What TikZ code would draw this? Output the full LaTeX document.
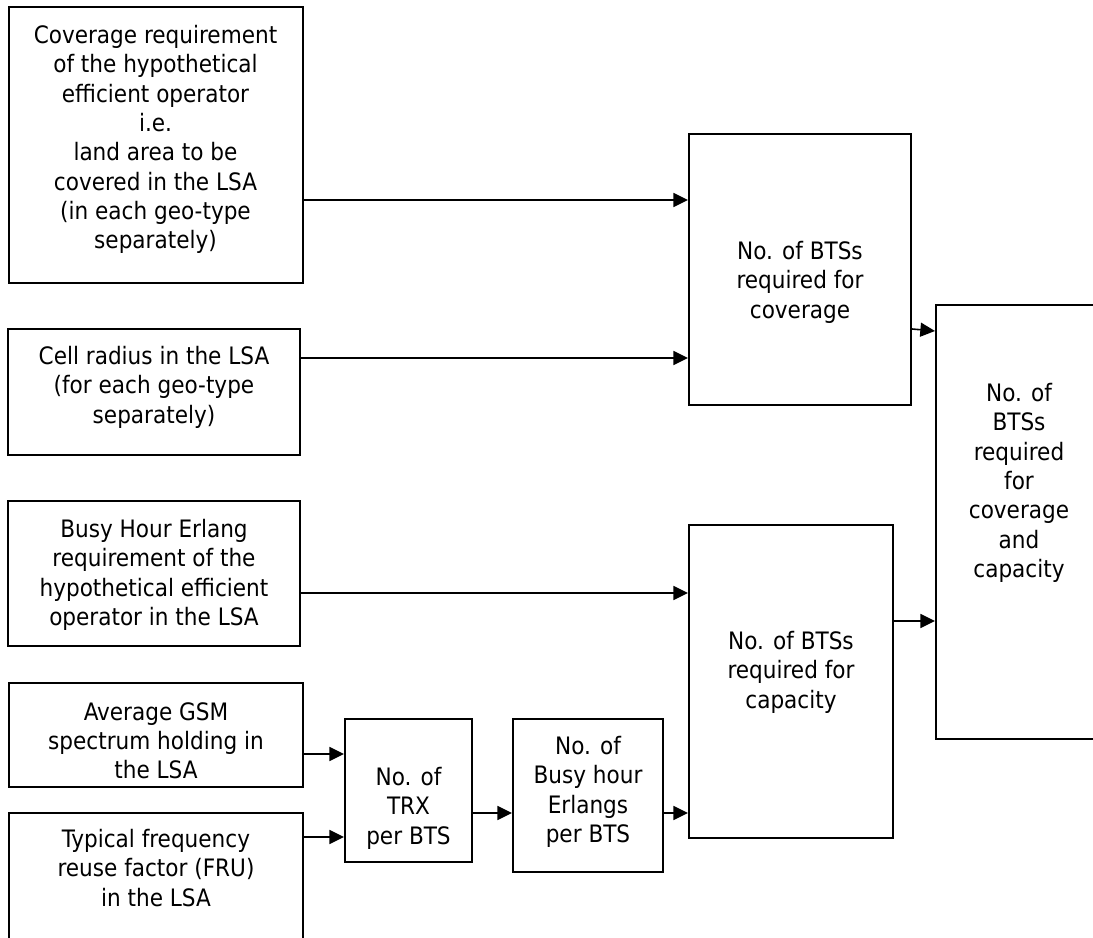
\documentclass[tikz,border=0pt]{standalone}
\usepackage{fontspec}
\IfFontExistsTF{DejaVu Sans Condensed}
  {\setmainfont{DejaVu Sans Condensed}\newcommand\boxfontsize{\fontsize{18pt}{22pt}\selectfont}}
  {\setmainfont{DejaVu Sans}\newcommand\boxfontsize{\fontsize{16.2pt}{22pt}\selectfont}}
\usetikzlibrary{arrows.meta}

\tikzset{
  bx/.style={draw, line width=1.5pt, inner sep=0pt},
  wh/.style 2 args={minimum width=#1*0.75pt, minimum height=#2*0.75pt},
  txt/.style={anchor=north, align=center, inner sep=0pt, font=\boxfontsize},
  arr/.style={line width=1.2pt, -{Triangle[length=11pt,width=10.5pt]}}
}

\begin{document}
\begin{tikzpicture}[x=0.75pt,y=-0.75pt]

\useasboundingbox (0,0) rectangle (1093,938);
\clip (0,0) rectangle (1093,938);

% input boxes (left column)
\node[bx, wh={294}{276}] (A) at (156,145) {};
\node[bx, wh={292}{126}] (B) at (154,392) {};
\node[bx, wh={292}{145}] (E) at (154,573.5) {};
\node[bx, wh={294}{104}] (G) at (156,735) {};
\node[bx, wh={294}{187}] (H) at (156,906.5) {};

% intermediate boxes
\node[bx, wh={127}{143}] (I) at (408.5,790.5) {};
\node[bx, wh={150}{153}] (J) at (588,795.5) {};
\node[bx, wh={222}{271}] (C) at (800,269.5) {};
\node[bx, wh={204}{313}] (F) at (791,681.5) {};

% result box
\node[bx, wh={166}{434}] (D) at (1019,522) {};

% box texts
\node[txt] (At) at (155.5,25) {Coverage requirement\\of the hypothetical\\efficient operator\\i.e.\\land area to be\\covered in the LSA\\(in each geo-type\\separately)};
\node[txt] (Bt) at (154,346) {Cell radius in the LSA\\ (for each geo-type\\separately)};
\node[txt] (Et) at (154,519) {Busy Hour Erlang\\requirement of the\\hypothetical efficient\\operator in the LSA};
\node[txt] (Gt) at (156,702) {Average GSM\\spectrum holding in\\the LSA};
\node[txt] (Ht) at (156,829) {Typical frequency\\reuse factor (FRU)\\in the LSA};
\node[txt] (It) at (408.5,767) {No. of\\TRX\\per BTS};
\node[txt] (Jt) at (588,736) {No. of\\Busy hour\\Erlangs\\per BTS};
\node[txt] (Ct) at (800,241) {No. of BTSs\\required for\\coverage};
\node[txt] (Ft) at (791,631) {No. of BTSs\\required for\\capacity};
\node[txt] (Dt) at (1019,383) {No. of\\BTSs\\required\\for\\coverage\\and\\capacity};

% connectors
\draw[arr] (A.east |- 0,200) -- (C.west |- 0,200);
\draw[arr] (B.east |- 0,358) -- (C.west |- 0,358);
\draw[arr] (C.east |- 0,329) -- (D.west |- 0,331);
\draw[arr] (E.east |- 0,593) -- (F.west |- 0,593);
\draw[arr] (F.east |- 0,621) -- (D.west |- 0,621);
\draw[arr] (G.east |- 0,754) -- (I.west |- 0,754);
\draw[arr] (H.east |- 0,837) -- (I.west |- 0,837);
\draw[arr] (I.east |- 0,813) -- (J.west |- 0,813);
\draw[arr] (J.east |- 0,813) -- (F.west |- 0,813);
\end{tikzpicture}
\end{document}
